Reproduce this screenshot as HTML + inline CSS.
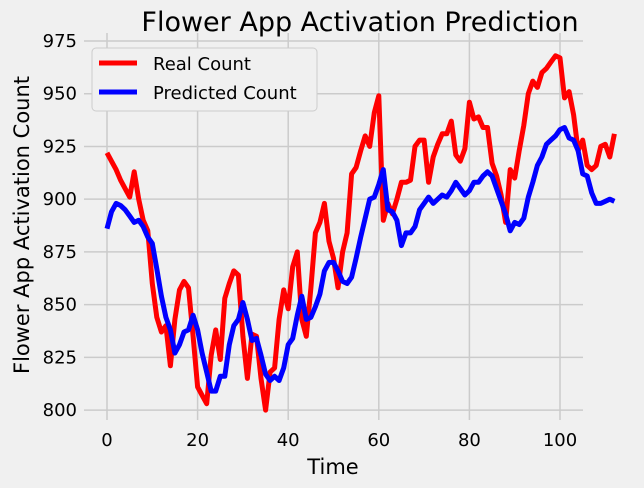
<!DOCTYPE html>
<html><head><meta charset="utf-8"><style>
html,body{margin:0;padding:0;background:#f0f0f0;}
svg{display:block;font-family:"DejaVu Sans","Liberation Sans",sans-serif;}
</style></head><body>
<svg id="chart" width="644" height="488" viewBox="0 0 644 488">
<rect width="644" height="488" fill="#f0f0f0"/>
<text x="360" y="31" font-size="27" text-anchor="middle" fill="#000">Flower App Activation Prediction</text>
<g id="grid"></g>
<g id="ticks"></g>
<g id="series"></g>
<text x="333" y="474" font-size="21" text-anchor="middle">Time</text>
<text transform="translate(29,225) rotate(-90)" font-size="21" text-anchor="middle">Flower App Activation Count</text>
<g>
<rect x="92" y="48" width="225" height="63" rx="4" fill="#f0f0f0" stroke="#cccccc" stroke-width="1"/>
<line x1="99" y1="63" x2="137" y2="63" stroke="#ff0000" stroke-width="5"/>
<text x="153" y="70" font-size="18">Real Count</text>
<line x1="99" y1="92" x2="137" y2="92" stroke="#0000ff" stroke-width="5"/>
<text x="153" y="99" font-size="18">Predicted Count</text>
</g>
</svg>
<script>
const xTicks = [0, 20, 40, 60, 80, 100];
const yTicks = [800, 825, 850, 875, 900, 925, 950, 975];
const realCount = [922,918,914,909,905,901,913,900,890,885,860,844,837,840,821,843,857,861,858,835,811,807,803,826,838,824,853,860,866,864,835,815,836,835,815,800,818,820,843,857,848,868,875,843,835,858,884,889,898,880,872,858,875,884,912,915,923,930,925,941,949,890,898,893,900,908,908,909,925,928,928,908,920,926,931,931,937,921,918,924,946,938,939,934,934,917,911,902,889,914,910,923,935,950,956,953,960,962,965,968,967,948,951,940,923,928,916,914,916,925,926,920,931];
const predictedCount = [886,894,898,897,895,892,889,890,887,882,879,867,854,844,838,827,831,837,838,845,838,827,818,809,809,816,816,831,840,843,851,843,833,834,826,817,814,816,814,820,831,834,845,854,843,844,849,855,866,870,870,866,861,860,863,872,882,891,900,901,907,914,895,894,890,878,884,884,887,895,898,901,898,900,902,901,904,908,905,902,904,908,908,911,913,911,905,899,893,885,889,888,891,901,908,916,920,926,928,930,933,934,929,928,923,912,911,903,898,898,899,900,899];
const NS = "http://www.w3.org/2000/svg";
function xScale(v){ return 107 + v * 4.53; }
function yScale(v){ return 41 + (975 - v) * 2.109; }
const grid = document.getElementById('grid');
const ticks = document.getElementById('ticks');
xTicks.forEach(t => {
  const l = document.createElementNS(NS,'line');
  l.setAttribute('x1', xScale(t)); l.setAttribute('x2', xScale(t));
  l.setAttribute('y1', 33); l.setAttribute('y2', 420);
  l.setAttribute('stroke', '#cbcbcb'); l.setAttribute('stroke-width', '1.5');
  
  
  grid.appendChild(l);
  const tx = document.createElementNS(NS,'text');
  tx.setAttribute('x', xScale(t)); tx.setAttribute('y', 446);
  tx.setAttribute('font-size', '18'); tx.setAttribute('text-anchor', 'middle');
  tx.textContent = t;
  
  
  ticks.appendChild(tx);
});
yTicks.forEach(t => {
  const l = document.createElementNS(NS,'line');
  l.setAttribute('x1', 84); l.setAttribute('x2', 583);
  l.setAttribute('y1', yScale(t)); l.setAttribute('y2', yScale(t));
  l.setAttribute('stroke', '#cbcbcb'); l.setAttribute('stroke-width', '1.5');
  
  
  grid.appendChild(l);
  const tx = document.createElementNS(NS,'text');
  tx.setAttribute('x', 77); tx.setAttribute('y', yScale(t) + 6);
  tx.setAttribute('font-size', '18'); tx.setAttribute('text-anchor', 'end');
  tx.textContent = t;
  
  
  ticks.appendChild(tx);
});
const series = document.getElementById('series');
function drawLine(arr, color, name){
  const p = document.createElementNS(NS,'polyline');
  p.setAttribute('points', arr.map((v,i) => xScale(i).toFixed(1) + ',' + yScale(v).toFixed(1)).join(' '));
  p.setAttribute('fill', 'none'); p.setAttribute('stroke', color);
  p.setAttribute('stroke-width', '5'); p.setAttribute('stroke-linejoin', 'round');
  
  
  series.appendChild(p);
}
drawLine(realCount, '#ff0000', 'real-count-line');
drawLine(predictedCount, '#0000ff', 'predicted-count-line');
</script>
</body></html>
